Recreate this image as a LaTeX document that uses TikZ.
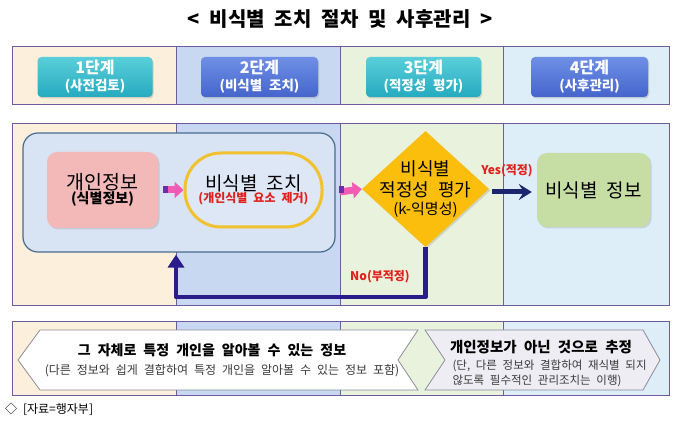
\documentclass[tikz,border=0pt]{standalone}
\usepackage{fontspec}
\setmainfont[WordSpace=2.2]{Noto Sans CJK KR}
\usetikzlibrary{shapes.geometric,arrows.meta,shadows}
\definecolor{colA}{HTML}{FCF0DC}
\definecolor{colB}{HTML}{C8D8F1}
\definecolor{colC}{HTML}{E9F2DD}
\definecolor{colD}{HTML}{DDEEF8}
\definecolor{bandline}{HTML}{6E5C9C}
\definecolor{tealtop}{HTML}{5ACFDA}
\definecolor{tealbot}{HTML}{25AABF}
\definecolor{bluetop}{HTML}{6F8FE6}
\definecolor{bluebot}{HTML}{4565CC}
\definecolor{groupfill}{HTML}{D8E4F3}
\definecolor{groupline}{HTML}{4A6A8C}
\definecolor{pinkfill}{HTML}{F2B9B8}
\definecolor{ringcol}{HTML}{F2C12E}
\definecolor{ringfill}{HTML}{DDE7F5}
\definecolor{diafill}{HTML}{FBBE0C}
\definecolor{greenfill}{HTML}{C6DDA3}
\definecolor{navyline}{HTML}{2A1D8A}
\definecolor{yesnavy}{HTML}{1C2570}
\definecolor{arrowpink}{HTML}{F25BB4}
\definecolor{arrowpurple}{HTML}{6A2FA8}
\definecolor{labelred}{HTML}{E0201C}
\definecolor{chevline}{HTML}{8A8A9C}
\definecolor{chevgray}{HTML}{EDEDF3}
\definecolor{textgray}{HTML}{3A3A3A}
\newcommand{\tsp}{\hspace{10pt}}
\tikzset{
  btn/.style={rounded corners=4pt, minimum width=115pt, minimum height=40pt, text=white,
    font=\bfseries\fontsize{16}{17}\selectfont, align=center, inner sep=0pt,
    drop shadow={shadow xshift=1pt, shadow yshift=-1.5pt, opacity=0.3}},
  tealbtn/.style={btn, top color=tealtop, bottom color=tealbot},
  bluebtn/.style={btn, top color=bluetop, bottom color=bluebot},
  groupbox/.style={rounded corners=15pt, fill=groupfill, draw=groupline, line width=1.2pt,
    minimum width=312pt, minimum height=119pt, inner sep=0pt},
  softshadow/.style={drop shadow={shadow xshift=1.5pt, shadow yshift=-1.5pt, opacity=0.25}},
  pinkbox/.style={rounded corners=10pt, fill=pinkfill, minimum width=111pt, minimum height=76pt,
    inner sep=0pt, align=center, softshadow},
  ringbox/.style={rounded corners=36pt, fill=ringfill, draw=ringcol, line width=3pt,
    minimum width=137pt, minimum height=74pt, inner sep=0pt, align=center},
  diabox/.style={diamond, fill=diafill, minimum width=127pt, minimum height=116pt, inner sep=0pt, softshadow},
  greenbox/.style={rounded corners=10pt, fill=greenfill, minimum width=113pt, minimum height=74pt,
    inner sep=0pt, align=center, softshadow},
  pinkarrow/.style={line width=7pt, arrowpink, -{Triangle[length=9pt,width=16pt]}},
  retarrow/.style={line width=4.5pt, navyline, -{Triangle[length=13pt,width=16pt]}},
  yesarrow/.style={line width=5pt, yesnavy, -{Stealth[length=13pt,width=16pt,inset=5pt]}},
  redlabel/.style={text=labelred, font=\bfseries\fontsize{12}{14}\selectfont},
  chevron/.style={draw=chevline, line width=0.8pt},
}
\begin{document}
\begin{tikzpicture}[x=1pt,y=-1pt]
\useasboundingbox (0,0) rectangle (680,427);
\fill[white] (0,0) rectangle (680,427);

% title
\node[font=\bfseries\fontsize{20}{24}\selectfont] (title) at (340,19) {<\tsp 비식별\tsp 조치\tsp 절차\tsp 및\tsp 사후관리\tsp >};

% column backgrounds for the three bands
\foreach \ya/\yb in {47/105, 124/306, 322/396}{
  \fill[colA] (12,\ya) rectangle (176,\yb);
  \fill[colB] (176,\ya) rectangle (340,\yb);
  \fill[colC] (340,\ya) rectangle (503,\yb);
  \fill[colD] (503,\ya) rectangle (669,\yb);
  \draw[bandline, line width=0.9pt] (176,\ya) -- (176,\yb) (340,\ya) -- (340,\yb) (503,\ya) -- (503,\yb);
  \draw[bandline, line width=1pt] (12,\ya) rectangle (669,\yb);
}

% stage buttons
\node[tealbtn] (s1) at (95,77) {1단계\\\fontsize{13.5}{15}\selectfont(사전검토)};
\node[bluebtn, minimum width=117pt] (s2) at (259.5,77) {2단계\\\fontsize{13.5}{15}\selectfont(비식별 조치)};
\node[tealbtn] (s3) at (423.5,77) {3단계\\\fontsize{13.5}{15}\selectfont(적정성 평가)};
\node[bluebtn, minimum width=117pt] (s4) at (589.5,77) {4단계\\\fontsize{13.5}{15}\selectfont(사후관리)};

% process
\node[groupbox] (group) at (179,192.5) {};
\node[pinkbox] (pinfo) at (102.5,190) {\fontsize{19.5}{23}\selectfont 개인정보\\[0pt]\bfseries\fontsize{14}{16}\selectfont (식별정보)};
\node[ringbox] (deid) at (253.5,190) {\fontsize{19}{23}\selectfont 비식별 조치\\[0pt]\bfseries\fontsize{12}{14}\selectfont\color{labelred}(개인식별 요소 제거)};
\node[diabox] (eval) at (425.5,189) {};
\node[align=center, inner sep=0pt, font=\fontsize{18}{21}\selectfont] (evaltext) at (eval.center)
  {비식별\\적정성 평가\\[-3pt]\fontsize{15}{17}\selectfont (k-익명성)};
\node[greenbox] (result) at (593.5,190) {\fontsize{19}{22}\selectfont 비식별 정보};

% connectors
\draw[pinkarrow, shorten <=5pt] (pinfo.east) -- (deid.west);
\fill[arrowpurple] (163,186.5) rectangle (168,193.5);
\draw[pinkarrow, shorten <=4pt] (group.east) -- (eval.west);
\fill[arrowpurple] (339,186.5) rectangle (344,193.5);
\draw[yesarrow, shorten <=3pt, shorten >=5pt] (eval.east |- 0,192) -- (result.west |- 0,192);
\node[redlabel] (yes) at (507,171) {Yes(적정)};
\coordinate (rc) at (176,297);
\draw[retarrow, line join=round, shorten >=2pt] (eval.south) |- (rc) -- (rc |- group.south);
\node[redlabel] (no) at (380,277) {No(부적정)};

% bottom chevrons
\draw[chevron, fill=white] (18,360) -- (40,330) -- (418,330) -- (398,360) -- (418,390) -- (40,390) -- cycle;
\draw[chevron, fill=chevgray] (425,330) -- (643,330) -- (660,360) -- (643,390) -- (425,390) -- (445,360) -- cycle;
\node[font=\bfseries\fontsize{14}{16}\selectfont] (l1) at (212,350) {그 자체로 특정 개인을 알아볼 수 있는 정보};
\node[text=textgray, font=\fontsize{12}{14}\selectfont] (l2) at (222,371) {(다른 정보와 쉽게 결합하여 특정 개인을 알아볼 수 있는 정보 포함)};
\node[font=\bfseries\fontsize{14.5}{16}\selectfont] (r1) at (541,347) {개인정보가 아닌 것으로 추정};
\node[text=textgray, font=\fontsize{11.5}{15}\selectfont, align=left, anchor=west] (r2) at (449,373) {(단, 다른 정보와 결합하여 재식별 되지\\않도록 필수적인 관리조치는 이행)};

% source
\node[anchor=west, font=\fontsize{12}{14}\selectfont, inner sep=0pt] (src) at (5,409) {◇ [자료=행자부]};
\end{tikzpicture}
\end{document}
